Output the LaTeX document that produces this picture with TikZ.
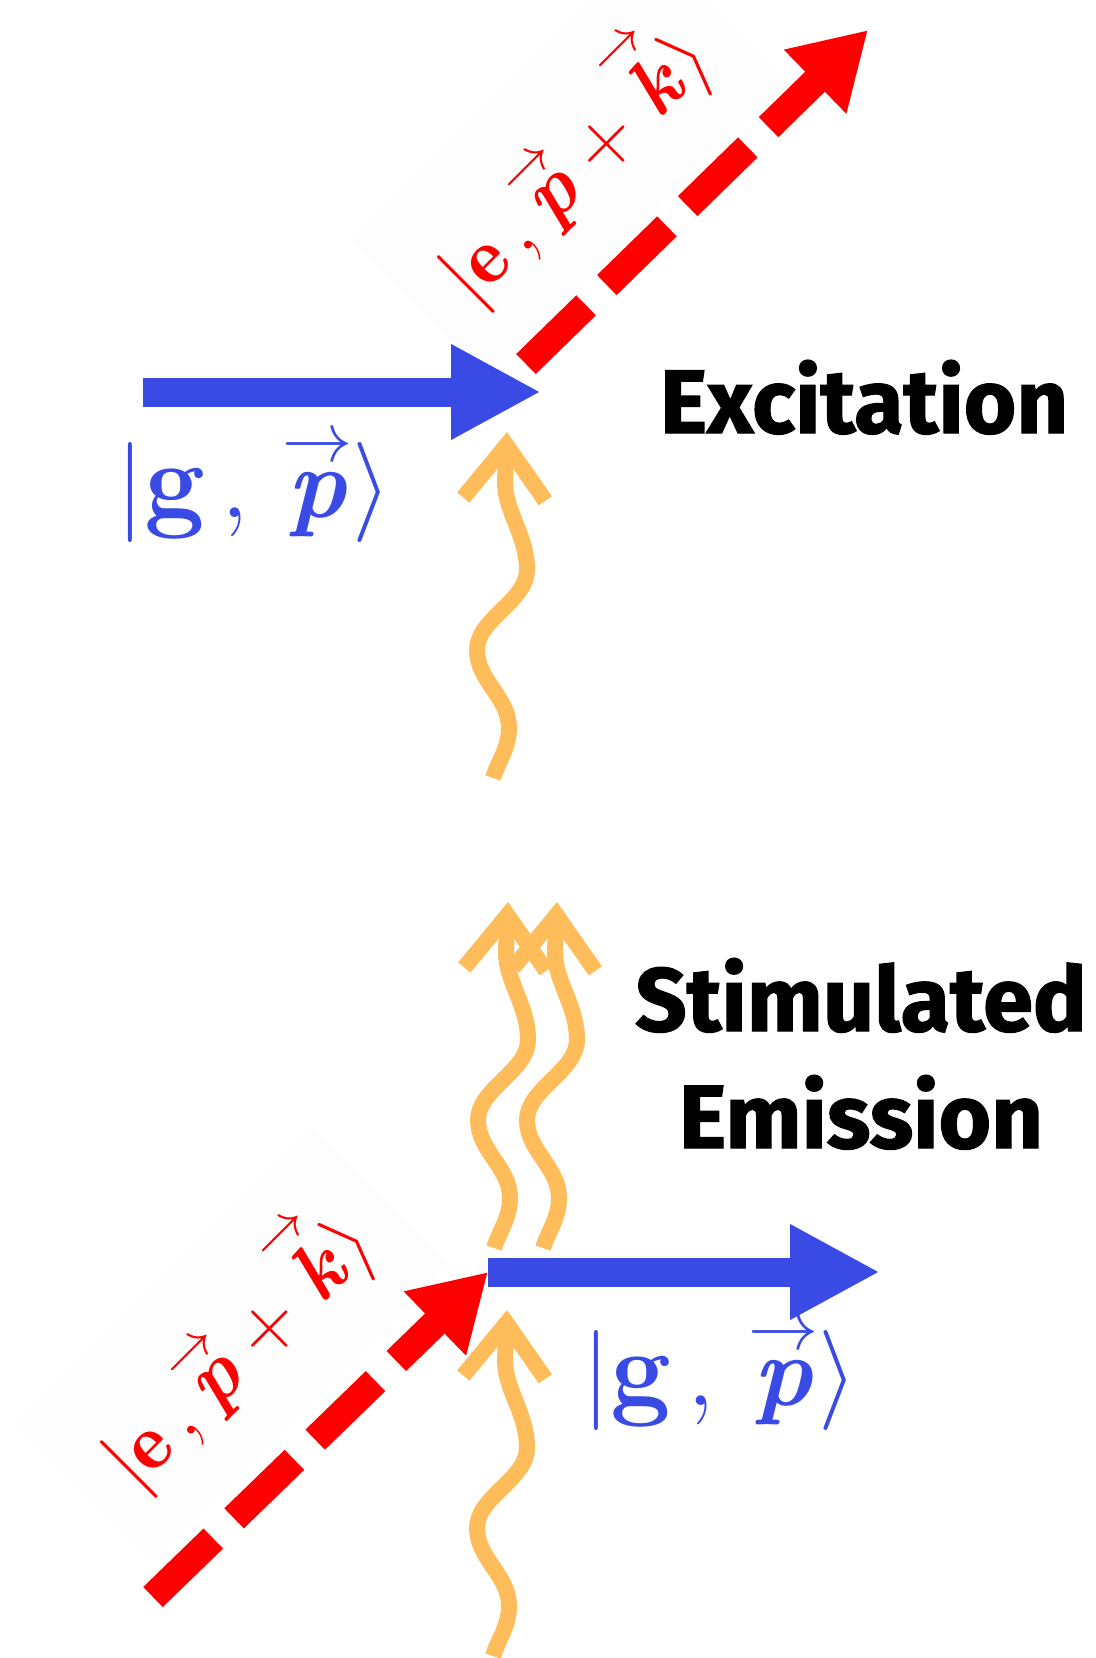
\RequirePackage{fix-cm}
\documentclass[tikz,border=0pt]{standalone}
\usepackage{amsmath}
\usepackage{fontspec}
\newfontfamily\titlefont{Fira Sans}[BoldFeatures={FakeBold=1.4}]
\usetikzlibrary{arrows.meta}

\definecolor{gblue}{RGB}{57,75,228}
\definecolor{ered}{RGB}{255,0,0}
\definecolor{photonorange}{RGB}{255,188,90}
\definecolor{labelbg}{RGB}{253,253,253}

\newcommand{\bvec}[1]{\overset{\scriptstyle\rightarrow}{\text{\bfseries\itshape #1}}}
\newcommand{\gket}{$|\text{\bfseries\fontsize{54}{60}\selectfont g}\,,\,\bvec{p}\rangle$}
\newcommand{\eket}{$|\mathbf{e}\,,\bvec{p}+\bvec{k}\rangle$}

\tikzset{
  ground/.style={gblue, line width=14.5pt, -{Triangle[length=45pt,width=44.5pt]}},
  excited/.style={ered, line width=14pt, dash pattern=on 42pt off 14.5pt,
    -{Triangle[length=37pt,width=42pt]}},
  photon/.style={photonorange, line width=8pt,
    -{Straight Barb[sharp,length=27pt,width=41pt]}},
  gstate/.style={text=gblue, inner sep=0pt, font=\fontsize{50}{60}\selectfont},
  estate/.style={text=ered, fill=labelbg, rotate=45, inner sep=0pt,
    minimum width=211pt, minimum height=96pt, font=\fontsize{40}{48}\selectfont},
  title/.style={inner sep=0pt, align=center, font=\titlefont\bfseries\fontsize{45}{58.5}\selectfont}
}

\begin{document}
\begin{tikzpicture}[x=0.5pt,y=-0.5pt]
    \useasboundingbox (0,0) rectangle (1096,1658);
    \fill[white] (0,0) rectangle (1096,1658);

    % Excitation
    \coordinate (gin) at (143,392);
    \coordinate (exc) at (541,392);
    \coordinate (ein) at (526,364);
    \coordinate (eout) at (868,30);
    \node[estate, anchor=base] (eup) at (594,185) {\eket};
    \draw[ground] (gin) -- (exc);
    \draw[excited] (ein) -- (eout);
    \node[gstate, anchor=base west] (gup) at (116,517) {\gket};
    \node[title, anchor=base] (excitation) at (864,433) {Excitation};

    % Stimulated emission
    \coordinate (eb) at (153,1597);
    \coordinate (emit) at (488,1272);
    \coordinate (gout) at (880,1272);
    \node[estate, anchor=base] (edown) at (257,1370) {\eket};
    \draw[excited] (eb) -- (emit);
    \draw[ground] (emit) -- (gout);
    \node[gstate, anchor=base west] (gdown) at (582,1405) {\gket};
    \node[title, anchor=south] (stimulated) at (861,1150) {Stimulated\\Emission};

    % Photons (tips)
    \coordinate (ph1) at (507,432);
    \coordinate (ph2) at (508,902);
    \coordinate (ph3) at (557,902);
    \coordinate (ph4) at (507,1310);
    \foreach \tip in {ph1,ph2,ph3,ph4}
      \draw[photon, shift={(\tip)}] (-14,346) .. controls (-9,330) and (2,316) .. (2,296)
        .. controls (2,265) and (-30,249) .. (-30,218)
        .. controls (-30,187) and (20,169) .. (20,138)
        .. controls (20,103) and (-2,80) .. (-2,50) -- (0,0);
\end{tikzpicture}
\end{document}
